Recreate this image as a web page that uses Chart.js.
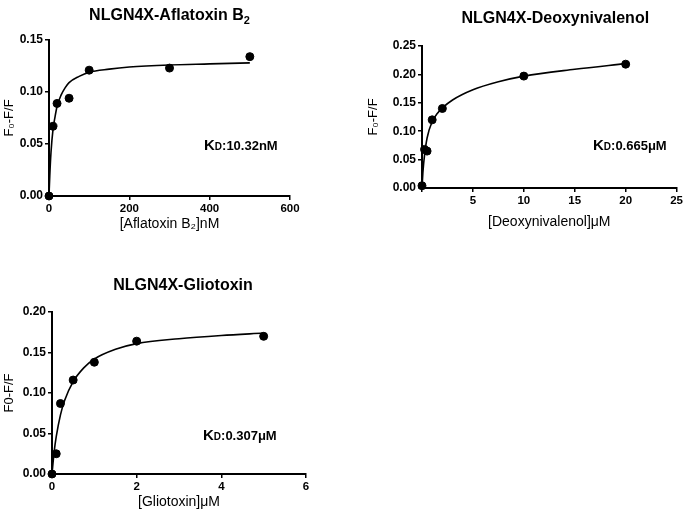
<!DOCTYPE html>
<html>
<head>
<meta charset="utf-8">
<script src="https://cdn.jsdelivr.net/npm/chart.js@4.4.1/dist/chart.umd.min.js"></script>
<style>
  body { margin: 0; background: #fff; width: 685px; height: 518px; position: relative; overflow: hidden; }
  canvas { position: absolute; }
</style>
</head>
<body>
<canvas id="afla" width="320" height="240" style="left:0;top:0"></canvas>
<canvas id="deoxy" width="345" height="240" style="left:340px;top:0"></canvas>
<canvas id="glio" width="330" height="256" style="left:0;top:262px"></canvas>
<script>
// measured points
const aflaX = [0, 10, 20, 50, 100, 300, 500];
const aflaY = [0, 0.067, 0.089, 0.094, 0.121, 0.123, 0.134];
// fitted curve
const aflaFitX = [0, 2, 5, 10, 15, 20, 30, 40, 50, 75, 100, 150, 200, 300, 400, 500];
const aflaFitY = [0, 0.020, 0.042, 0.064, 0.076, 0.086, 0.097, 0.104, 0.109, 0.115, 0.119, 0.122, 0.124, 0.126, 0.127, 0.128];

const deoxyX = [0, 0.25, 0.5, 1, 2, 10, 20];
const deoxyY = [0.004, 0.068, 0.065, 0.120, 0.140, 0.197, 0.218];
const deoxyFitX = [0, 0.1, 0.25, 0.5, 1, 1.5, 2, 3, 5, 7.5, 10, 15, 20];
const deoxyFitY = [0, 0.030, 0.058, 0.088, 0.117, 0.131, 0.141, 0.155, 0.173, 0.187, 0.197, 0.209, 0.219];

const glioX = [0, 0.1, 0.2, 0.5, 1, 2, 5];
const glioY = [0, 0.025, 0.087, 0.116, 0.138, 0.164, 0.170];
const glioFitX = [0, 0.05, 0.1, 0.2, 0.3, 0.5, 0.75, 1, 1.5, 2, 3, 4, 5];
const glioFitY = [0, 0.027, 0.046, 0.073, 0.091, 0.114, 0.131, 0.142, 0.154, 0.161, 0.167, 0.171, 0.174];

const FONT = "'Liberation Sans', Arial, sans-serif";
Chart.defaults.font.family = FONT;
Chart.defaults.color = '#000';

const panelText = {
  id: 'panelText',
  afterDraw(chart, args, o) {
    const ctx = chart.ctx, a = chart.chartArea;
    ctx.save();
    ctx.fillStyle = '#000';
    ctx.textBaseline = 'alphabetic';
    // title, with optional subscript
    ctx.font = 'bold 16px ' + FONT;
    const w1 = ctx.measureText(o.title).width;
    ctx.font = 'bold 11px ' + FONT;
    const w2 = o.titleSub ? ctx.measureText(o.titleSub).width : 0;
    let x = (a.left + a.right) / 2 - (w1 + w2) / 2 + (o.titleDx || 0);
    ctx.font = 'bold 16px ' + FONT;
    ctx.textAlign = 'left';
    ctx.fillText(o.title, x, o.titleY);
    if (o.titleSub) {
      ctx.font = 'bold 11px ' + FONT;
      ctx.fillText(o.titleSub, x + w1, o.titleY + 4);
    }
    // K_D label
    x = o.kdX;
    ctx.font = 'bold 15px ' + FONT;
    ctx.fillText('K', x, o.kdY);
    x += ctx.measureText('K').width;
    ctx.font = 'bold 10px ' + FONT;
    ctx.fillText('D', x, o.kdY);
    x += ctx.measureText('D').width;
    ctx.font = 'bold 13px ' + FONT;
    ctx.fillText(':' + o.kd, x, o.kdY);
    ctx.restore();
  }
};

function makeChart(id, px, py, fx, fy, cfg) {
  const pts = px.map((v, i) => ({ x: v, y: py[i] }));
  const fit = fx.map((v, i) => ({ x: v, y: fy[i] }));
  const axisCommon = {
    border: { display: true, color: '#000', width: 2 },
    grid: { display: true, drawOnChartArea: false, drawTicks: true, tickLength: 4, color: '#000', lineWidth: 1.5 },
  };
  return new Chart(document.getElementById(id), {
    type: 'scatter',
    data: {
      datasets: [
        { data: fit, showLine: true, borderColor: '#000', borderWidth: 1.6, pointRadius: 0,
          cubicInterpolationMode: 'monotone', fill: false, clip: 10 },
        { data: pts, showLine: false, backgroundColor: '#000', borderColor: '#000', pointRadius: 4, clip: 10 }
      ]
    },
    options: {
      responsive: false,
      animation: false,
      layout: { padding: cfg.padding },
      plugins: { legend: { display: false }, tooltip: { enabled: false }, panelText: cfg.text },
      scales: {
        x: {
          ...axisCommon,
          type: 'linear', min: 0, max: cfg.xMax,
          afterFit: s => { s.height = cfg.xH; },
          ticks: { stepSize: cfg.xStep, font: { size: 11.5, weight: 'bold' }, padding: 2,
                   callback: v => (cfg.hideZero && v === 0) ? '' : v },
          title: { display: true, text: cfg.xTitle, font: { size: 14 }, padding: { top: 2, bottom: 4 } }
        },
        y: {
          ...axisCommon,
          type: 'linear', min: 0, max: cfg.yMax,
          afterFit: s => { s.width = cfg.yW; },
          ticks: { stepSize: 0.05, font: { size: 12, weight: 'bold' }, padding: 2,
                   callback: v => v.toFixed(2) },
          title: { display: true, text: cfg.yTitle, font: { size: 13 }, padding: { top: 2, bottom: 2 } }
        }
      }
    },
    plugins: [panelText]
  });
}

makeChart('afla', aflaX, aflaY, aflaFitX, aflaFitY, {
  padding: { left: 0, right: 30, top: 40, bottom: 3 },
  xH: 41, yW: 49, xMax: 600, xStep: 200, yMax: 0.15,
  xTitle: '[Aflatoxin B\u2082]nM', yTitle: 'F\u2080-F/F',
  text: { title: 'NLGN4X-Aflatoxin B', titleSub: '2', titleY: 20, kd: '10.32nM', kdX: 204, kdY: 150 }
});

makeChart('deoxy', deoxyX, deoxyY, deoxyFitX, deoxyFitY, {
  padding: { left: 24, right: 7, top: 46, bottom: 5 },
  xH: 47, yW: 58, xMax: 25, xStep: 5, yMax: 0.25, hideZero: true,
  xTitle: '[Deoxynivalenol]\u03bcM', yTitle: 'F\u2080-F/F',
  text: { title: 'NLGN4X-Deoxynivalenol', titleY: 23, titleDx: 6, kd: '0.665\u03bcM', kdX: 253, kdY: 150 }
});

makeChart('glio', glioX, glioY, glioFitX, glioFitY, {
  padding: { left: 0, right: 24, top: 50, bottom: 3 },
  xH: 41, yW: 52, xMax: 6, xStep: 2, yMax: 0.20,
  xTitle: '[Gliotoxin]\u03bcM', yTitle: 'F0-F/F',
  text: { title: 'NLGN4X-Gliotoxin', titleY: 28, titleDx: 4, kd: '0.307\u03bcM', kdX: 203, kdY: 178 }
});
</script>
</body>
</html>
